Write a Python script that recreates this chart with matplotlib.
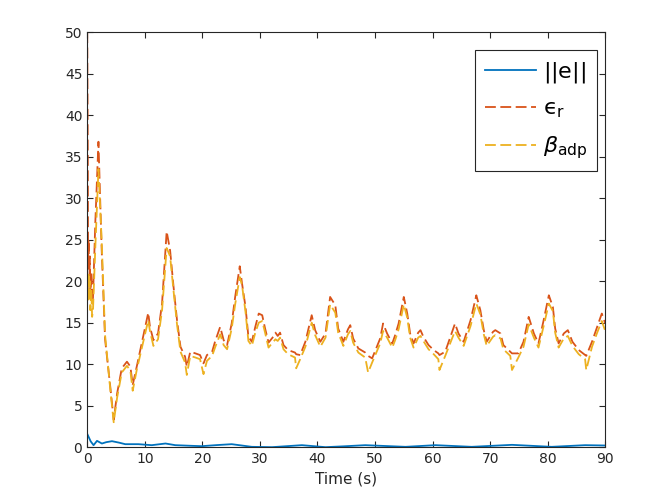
import matplotlib.pyplot as plt

plt.rcParams['mathtext.fontset'] = 'dejavusans'

# ||e|| (tracking error norm)
t_e = [0, 0.1, 0.6, 1.1, 1.7, 2.55, 3.3, 4.3, 5.5, 6.6, 8.9, 11.2, 13.6, 15.3,
       18.2, 19.9, 22.5, 25.1, 28.6, 32.1, 37.3, 41.4, 44.5, 48.3, 55.3, 60.5,
       66.8, 73.8, 80.7, 86.5, 90]
e_norm = [1.6, 1.45, 0.7, 0.24, 0.76, 0.44, 0.6, 0.72, 0.55, 0.36, 0.36, 0.24,
          0.44, 0.24, 0.16, 0.12, 0.25, 0.36, 0.04, 0.0, 0.24, 0.0, 0.1, 0.24,
          0.04, 0.24, 0.04, 0.28, 0.04, 0.24, 0.2]

# eps_r and beta_adp share one time base
t = [0.0, 0.1, 0.15, 0.25, 0.35, 0.45, 0.55, 0.7, 0.85, 1.0, 1.4, 1.95, 2.5,
     3.1, 4.0, 4.6, 5.2, 6.0, 6.9, 7.5, 7.9, 8.6, 9.5, 10.6, 10.9, 11.5, 12.3,
     13.0, 13.8, 14.4, 15.0, 15.6, 16.2, 17.0, 17.3, 17.9, 18.8, 19.6, 20.2,
     20.8, 21.7, 22.2, 23.1, 23.7, 24.3, 25.1, 25.7, 26.5, 26.9, 27.5, 28.0,
     28.6, 29.2, 29.8, 30.4, 30.9, 31.5, 32.2, 32.7, 33.1, 33.5, 34.1, 34.9,
     36.1, 36.3, 37.0, 37.9, 39.0, 39.6, 40.5, 41.4, 42.2, 43.1, 43.6, 44.5,
     45.3, 45.7, 46.2, 47.1, 48.3, 48.8, 49.5, 50.9, 51.4, 52.1, 53.0, 53.5,
     54.1, 55.0, 55.6, 56.1, 56.7, 57.5, 57.9, 58.4, 59.3, 60.2, 61.0, 61.2,
     62.2, 63.1, 63.9, 64.5, 65.4, 66.6, 67.6, 68.3, 68.9, 69.4, 70.5, 70.9,
     71.8, 72.3, 73.5, 73.8, 74.9, 75.8, 76.7, 77.6, 78.4, 79.3, 80.2, 80.9,
     81.3, 81.9, 82.8, 83.5, 84.3, 85.4, 86.5, 86.7, 87.7, 88.6, 89.4, 90.0]
eps_r = [50, 35, 22, 25, 19, 23, 18.5, 21, 17.5, 18, 27, 36.8, 24,
         13, 7.3, 3.3, 6.5, 9.5, 10.3, 9.7, 7.5, 9.7, 12.6, 16.2, 14.5, 12.9, 13.7,
         17.3, 26.0, 23.7, 19.3, 15.3, 12.1, 10.9, 9.7, 11.5, 11.3, 11.1, 10.1,
         11.1, 11.5, 12.7, 14.5, 12.9, 12.3, 14.9, 18.1, 21.8, 19.7, 16.9, 13.3,
         12.7, 14.5, 16.1, 15.9, 14.3, 12.6, 13.2, 13.8, 13.4, 13.8, 12.3, 11.7,
         11.4, 11.2, 11.1, 12.7, 15.9, 14.1, 12.7, 13.7, 18.1, 17.1, 14.3, 12.7,
         14.2, 14.7, 13.1, 11.9, 11.4, 11.0, 10.7, 13.1, 14.9, 13.7, 12.5, 13.5,
         14.9, 18.1, 16.1, 13.7, 12.5, 13.8, 14.1, 13.3, 12.3, 11.7, 11.3, 11.1,
         11.5, 13.3, 14.9, 13.7, 12.7, 15.3, 18.3, 16.5, 14.1, 12.7, 13.9, 14.1,
         13.7, 12.3, 11.5, 11.3, 11.3, 12.7, 15.7, 13.7, 12.5, 15.3, 18.3, 16.9,
         14.3, 12.5, 13.7, 14.1, 12.7, 11.7, 11.1, 11.0, 12.7, 14.5, 16.1, 14.9]
beta_adp = [21, 19, 17.5, 21, 18, 20, 16.5, 19, 15.7, 16.5, 24, 33.5, 25,
            13.5, 7.0, 3.0, 6.0, 9.0, 9.8, 9.2, 6.8, 9.3, 12.0, 15.3, 14.0, 12.2, 13.0,
            16.5, 24.0, 23.0, 18.8, 14.8, 11.5, 10.2, 8.7, 11.0, 10.8, 10.6, 8.8,
            10.4, 11.0, 12.0, 13.6, 12.3, 11.8, 14.3, 17.2, 20.5, 19.5, 16.3, 12.8,
            12.2, 13.8, 15.0, 15.2, 13.8, 12.0, 12.6, 13.0, 12.8, 13.2, 11.8, 11.2,
            10.8, 9.5, 10.6, 12.1, 15.0, 13.5, 12.1, 13.2, 17.2, 16.2, 13.8, 12.2,
            13.6, 14.0, 12.6, 11.4, 10.8, 9.0, 10.2, 12.5, 14.0, 13.2, 12.0, 12.9,
            14.2, 17.2, 15.6, 13.2, 12.0, 13.2, 13.4, 12.8, 11.8, 11.2, 10.6, 9.3,
            11.0, 12.6, 14.0, 13.2, 12.2, 14.6, 17.3, 16.0, 13.6, 12.2, 13.3, 13.5,
            13.1, 11.8, 11.0, 9.3, 10.8, 12.1, 14.8, 13.2, 12.0, 14.6, 17.3, 16.4,
            13.8, 12.0, 13.1, 13.4, 12.2, 11.2, 10.6, 9.3, 12.1, 13.8, 15.2, 14.0]

fig = plt.figure(figsize=(6.71, 5.03), dpi=100)
ax = fig.add_axes([0.13, 0.111, 0.772, 0.825])

dash = (0, (6, 2.5))
ax.plot(t_e, e_norm, color='#0072BD', lw=1.3, label=r'$||\mathrm{e}||$')
ax.plot(t, eps_r, color='#D95319', lw=1.3, linestyle=dash,
        label=r'$\mathrm{ϵ}_{\mathrm{r}}$')
ax.plot(t, beta_adp, color='#EDB120', lw=1.3, linestyle=dash,
        label=r'$\beta_{\mathrm{adp}}$')

ax.set_xlim(0, 90)
ax.set_ylim(0, 50)
ax.set_xticks(range(0, 91, 10))
ax.set_yticks(range(0, 51, 5))
ax.tick_params(direction='in', top=True, right=True, length=4,
               labelsize=10, colors='#262626')
for s in ax.spines.values():
    s.set_color('#262626')
    s.set_linewidth(0.8)
ax.set_xlabel('Time (s)', fontsize=11, color='#262626')

leg = ax.legend(loc='upper right', bbox_to_anchor=(0.985, 0.957),
                fontsize=16, handlelength=2.3, fancybox=False, framealpha=1,
                borderaxespad=0, labelspacing=0.62, handletextpad=0.3,
                borderpad=0.45)
leg.get_frame().set_edgecolor('#262626')
leg.get_frame().set_linewidth(0.8)

fig.savefig('out.png', dpi=100)
